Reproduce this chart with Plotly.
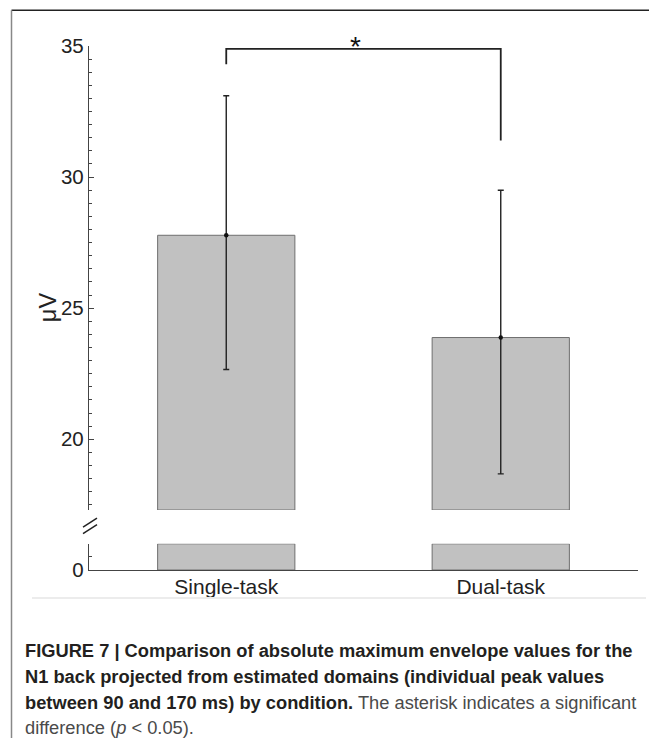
import plotly.graph_objects as go

# ---- data ----
categories = ["Single-task", "Dual-task"]
means = [27.78, 23.88]
err_upper = [33.10, 29.50]
err_lower = [22.66, 18.68]
upper_base = 17.3        # broken-axis lower bound of upper panel
lower_top = 1.0          # top of lower panel
upper_ticks = [20, 25, 30, 35]
lower_ticks = [0]
bracket_y = [34.30, 34.89, 34.89, 31.40]
bracket_x = [0, 0, 1, 1]
sig_label = "*"

FONT = "Liberation Sans, Arial, Helvetica, sans-serif"
OFF = 8                       # page body margin
W, H = 657 - OFF, 738 - OFF
PLOT_L, PLOT_R, PLOT_T, PLOT_B = 89, 638, 45.7, 570   # page pixel coords of plot area
L, R, T = PLOT_L - OFF, W - (PLOT_R - OFF), PLOT_T - OFF
B = H - (PLOT_B - OFF)
PW, PH = W - L - R, H - T - B


def px_x(x):
    return (x - PLOT_L) / PW


def px_y(y):
    return (PLOT_B - y) / PH


up_dom0 = px_y(510)
low_dom1 = px_y(543.8)

bar_style = dict(marker=dict(color="#c1c1c1", line=dict(color="#6f6f6f", width=1)),
                 width=0.5, showlegend=False, hoverinfo="skip")

fig = go.Figure()
fig.add_trace(go.Bar(x=categories, y=[m - upper_base for m in means], base=upper_base,
                     xaxis="x", yaxis="y", **bar_style))
fig.add_trace(go.Bar(x=categories, y=[lower_top] * len(categories), base=0,
                     xaxis="x", yaxis="y2", cliponaxis=False, **bar_style))
fig.add_trace(go.Scatter(
    x=categories, y=means, mode="markers", xaxis="x", yaxis="y",
    marker=dict(color="#111", size=4.5),
    error_y=dict(type="data", symmetric=False,
                 array=[u - m for u, m in zip(err_upper, means)],
                 arrayminus=[m - l for m, l in zip(means, err_lower)],
                 color="#222", thickness=1.4, width=3),
    showlegend=False, hoverinfo="skip"))
fig.add_trace(go.Scatter(
    x=[categories[i] for i in bracket_x], y=bracket_y, mode="lines",
    xaxis="x", yaxis="y", line=dict(color="#222", width=1.8),
    showlegend=False, hoverinfo="skip", cliponaxis=False))

annotations = [
    dict(x=0.47, y=bracket_y[1], xref="x", yref="y", text=sig_label, showarrow=False,
         xanchor="center", yanchor="bottom", yshift=-15,
         font=dict(family=FONT, size=28, color="#111")),
    dict(x=px_x(47.5), y=px_y(307.5), xref="paper", yref="paper", text="μV", textangle=-90,
         showarrow=False, xanchor="center", yanchor="middle",
         font=dict(family=FONT, size=23.5, color="#222")),
]

cap_lines = [
    "<b>FIGURE 7 | Comparison of absolute maximum envelope values for the</b>",
    "<b>N1 back projected from estimated domains (individual peak values</b>",
    "<b>between 90 and 170 ms) by condition.</b> <span style='color:#4a4a4a'>The asterisk indicates a significant</span>",
    "<span style='color:#4a4a4a'>difference (<i>p</i> &lt; 0.05).</span>",
]
cap_y = [651, 677, 703, 728]
for t, yy in zip(cap_lines, cap_y):
    annotations.append(dict(x=px_x(23), y=px_y(yy), xref="paper", yref="paper", text=t,
                            showarrow=False, xanchor="left", yanchor="middle", align="left",
                            font=dict(family=FONT, size=18.3, color="#231f20")))

shapes = [
    dict(type="line", xref="paper", yref="paper", x0=px_x(11.5), x1=px_x(660),
         y0=px_y(10), y1=px_y(10), line=dict(color="#222", width=1.5)),
    dict(type="line", xref="paper", yref="paper", x0=px_x(11.5), x1=px_x(11.5),
         y0=px_y(10), y1=px_y(745), line=dict(color="#888", width=1.5)),
    dict(type="line", xref="paper", yref="paper", x0=px_x(32), x1=px_x(646),
         y0=px_y(598), y1=px_y(598), line=dict(color="#ececec", width=2)),
    dict(type="line", xref="paper", yref="paper", x0=px_x(83), x1=px_x(97),
         y0=px_y(527), y1=px_y(518), line=dict(color="#222", width=1.5)),
    dict(type="line", xref="paper", yref="paper", x0=px_x(83), x1=px_x(97),
         y0=px_y(533.5), y1=px_y(524.5), line=dict(color="#222", width=1.5)),
]

axis_common = dict(showline=True, linecolor="#444", linewidth=1.3, ticks="inside", ticklen=5,
                   tickcolor="#444", tickwidth=1, showgrid=False, zeroline=False,
                   minor=dict(dtick=0.5, tick0=0, ticks="inside", ticklen=3,
                              tickcolor="#444", showgrid=False),
                   tickfont=dict(size=20.5, color="#222"))

fig.update_layout(
    width=W, height=H, margin=dict(l=L, r=R, t=T, b=B, pad=0),
    paper_bgcolor="white", plot_bgcolor="white",
    font=dict(family=FONT, size=20, color="#222"),
    xaxis=dict(anchor="y2", range=[-0.5, 1.5], showline=True, linecolor="#444", linewidth=1.3,
               ticks="", showgrid=False, zeroline=False,
               tickfont=dict(size=21, color="#222"), ticklabelstandoff=-2),
    yaxis=dict(domain=[up_dom0, 1], range=[upper_base, 35], tickvals=upper_ticks, **axis_common),
    yaxis2=dict(domain=[0, low_dom1], range=[0, lower_top], tickvals=lower_ticks, **axis_common),
    annotations=annotations, shapes=shapes,
)

fig.write_html("out.html")
